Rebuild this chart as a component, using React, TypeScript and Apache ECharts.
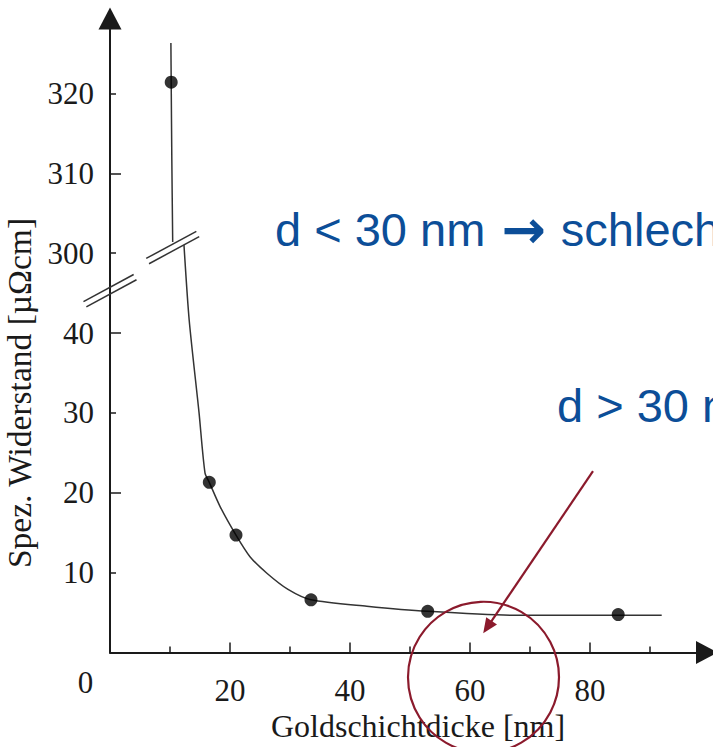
import React, { useEffect, useRef } from "react";
import * as echarts from "echarts";

// values above the axis break (≥ 300 µΩcm) are drawn 250 units lower
const BREAK_SHIFT = 250;

const measuredThickness = [10.2, 16.55, 21.0, 33.5, 52.95, 84.7];
const measuredResistivity = [321.4, 21.3, 14.7, 6.6, 5.15, 4.75];

const fitUpperThickness = [10.15, 10.2, 10.3, 10.45];
const fitUpperResistivity = [326.3, 321.4, 312, 301.4];

const fitLowerThickness = [12.33, 13.2, 14.83, 15.83, 16.55, 18.33, 21.0, 23.33, 26.1, 29.67, 33.5, 42.8, 52.95, 67.2, 91.95];
const fitLowerResistivity = [51.0, 41.6, 30.1, 22.5, 21.3, 18.3, 14.7, 12.0, 9.96, 7.9, 6.6, 5.8, 5.15, 4.66, 4.66];

const xTickLabels = [20, 40, 60, 80];
const xMinorTicks = [10, 30, 50, 70, 90];
const yTickLabels = [10, 20, 30, 40, 300, 310, 320];
const yLongTicks = [20, 40, 310];
const yShortTicks = [10, 30, 300, 320];

const toDisplay = (v: number) => (v >= 200 ? v - BREAK_SHIFT : v);
const fromDisplay = (v: number) => (v >= 45 ? v + BREAK_SHIFT : v);

const SERIF = '"Liberation Serif", "Times New Roman", serif';
const SANS = '"Liberation Sans", Arial, sans-serif';
const INK = "#1a1a1a";
const BLUE = "#0c4e98";
const RED = "#8b1a2c";

export default function App() {
  const ref = useRef<HTMLDivElement>(null);

  useEffect(() => {
    if (!ref.current) return;
    const chart = echarts.init(ref.current, null, { renderer: "svg" });

    const pairs = (xs: number[], ys: number[]) => xs.map((x, i) => [x, toDisplay(ys[i])]);

    const axisLineStyle = { color: INK, width: 2 };

    chart.setOption({
      animation: false,
      grid: { left: 110, right: 3, top: 29.5, bottom: 94.5, containLabel: false, outerBoundsMode: "none" },
      xAxis: [
        {
          type: "value",
          min: 0,
          max: 100,
          splitLine: { show: false },
          axisLine: {
            show: true,
            onZero: false,
            lineStyle: axisLineStyle,
            symbol: ["none", "triangle"],
            symbolSize: [23, 22],
            symbolOffset: [0, -3],
          },
          axisTick: { show: true, inside: true, length: 10, customValues: xTickLabels, lineStyle: { color: INK, width: 1.5 } },
          axisLabel: {
            show: true,
            customValues: xTickLabels,
            margin: 22,
            fontFamily: SERIF,
            fontSize: 31,
            color: INK,
          },
          name: "Goldschichtdicke [nm]",
          nameLocation: "middle",
          nameGap: 52,
          nameTextStyle: { fontFamily: SERIF, fontSize: 32, color: INK, padding: [0, 0, 0, 16] },
        },
        {
          type: "value",
          min: 0,
          max: 100,
          position: "bottom",
          splitLine: { show: false },
          axisLine: { show: false },
          axisLabel: { show: false },
          axisTick: { show: true, inside: true, length: 6, customValues: xMinorTicks, lineStyle: { color: INK, width: 1.5 } },
        },
      ],
      yAxis: [
        {
          type: "value",
          min: 0,
          max: 78,
          position: "left",
          splitLine: { show: false },
          axisLine: {
            show: true,
            onZero: false,
            lineStyle: axisLineStyle,
            symbol: ["none", "triangle"],
            symbolSize: [23, 22],
            symbolOffset: [0, 11],
          },
          axisTick: {
            show: true,
            inside: true,
            length: 6,
            customValues: yShortTicks.map(toDisplay),
            lineStyle: { color: INK, width: 1.5 },
          },
          axisLabel: {
            show: true,
            customValues: yTickLabels.map(toDisplay),
            formatter: (v: number) => String(fromDisplay(v)),
            margin: 16,
            fontFamily: SERIF,
            fontSize: 31,
            color: INK,
          },
          name: "Spez. Widerstand [µΩcm]",
          nameLocation: "middle",
          nameRotate: 90,
          nameGap: 67,
          nameTextStyle: { fontFamily: SERIF, fontSize: 33.5, color: INK, padding: [0, 104, 0, 0] },
        },
        {
          type: "value",
          min: 0,
          max: 78,
          position: "left",
          splitLine: { show: false },
          axisLine: { show: false },
          axisLabel: { show: false },
          axisTick: {
            show: true,
            inside: true,
            length: 11,
            customValues: yLongTicks.map(toDisplay),
            lineStyle: { color: INK, width: 1.5 },
          },
        },
      ],
      series: [
        {
          type: "line",
          name: "Fit oben",
          data: pairs(fitUpperThickness, fitUpperResistivity),
          smooth: 0.3,
          showSymbol: false,
          lineStyle: { color: "#333", width: 1.5 },
        },
        {
          type: "line",
          name: "Fit unten",
          data: pairs(fitLowerThickness, fitLowerResistivity),
          smooth: 0.25,
          showSymbol: false,
          lineStyle: { color: "#333", width: 1.5 },
        },
        {
          type: "scatter",
          name: "Messwerte",
          data: pairs(measuredThickness, measuredResistivity),
          symbolSize: 13,
          itemStyle: { color: "#000" },
          z: 5,
        },
      ],
    });

    const px = (x: number, y: number) => chart.convertToPixel({ gridIndex: 0 }, [x, y]) as number[];

    const breakMark = (cx: number, cy: number) => {
      const [x, y] = px(cx, cy);
      const d = [0.88, -0.475];
      const n = [0.475, 0.88];
      const h = 28.5;
      return [-3, 3].map((o) => ({
        type: "line",
        shape: {
          x1: x - d[0] * h + n[0] * o,
          y1: y - d[1] * h + n[1] * o,
          x2: x + d[0] * h + n[0] * o,
          y2: y + d[1] * h + n[1] * o,
        },
        style: { stroke: "#333", lineWidth: 1.5 },
        z: 10,
      }));
    };

    const [ccx, ccy] = px(62.25, -3.1);
    const [ax1, ay1] = px(80.5, 22.7);
    const [tx, ty] = px(62.2, 2.4);
    const len = Math.hypot(tx - ax1, ty - ay1);
    const ux = (tx - ax1) / len;
    const uy = (ty - ay1) / len;
    const headL = 15;
    const headW = 6.5;
    const bx = tx - ux * headL;
    const by = ty - uy * headL;

    const blueRich = {
      txt: {
        fontFamily: SANS,
        fontSize: 47,
        color: BLUE,
        lineHeight: 56,
        verticalAlign: "middle",
      },
      arr: {
        fontFamily: '"DejaVu Sans", sans-serif',
        fontWeight: "bold",
        fontSize: 53,
        color: BLUE,
        lineHeight: 56,
        verticalAlign: "middle",
        padding: [0, 2, 0, 3],
      },
    };

    chart.setOption({
      graphic: [
        ...breakMark(0, 45.3),
        ...breakMark(10.45, 50.7),
        {
          type: "text",
          x: 85.5,
          y: 682.5,
          style: { text: "0", font: `31px ${SERIF}`, fill: INK, align: "center", verticalAlign: "middle", textAlign: "center", textVerticalAlign: "middle" },
        },
        {
          type: "text",
          x: 275,
          y: 229,
          style: {
            text: "{txt|d < 30 nm }{arr|→}{txt| schlecht}",
            rich: blueRich,
            font: `47px ${SANS}`,
            fill: BLUE,
            align: "left",
            verticalAlign: "middle",
            textAlign: "left",
            textVerticalAlign: "middle",
          },
        },
        {
          type: "text",
          x: 557,
          y: 405,
          style: { text: "d > 30 nm", font: `47px ${SANS}`, fill: BLUE, align: "left", verticalAlign: "middle", textAlign: "left", textVerticalAlign: "middle" },
        },
        {
          type: "circle",
          shape: { cx: ccx, cy: ccy, r: 75.5 },
          style: { fill: "none", stroke: RED, lineWidth: 2.2 },
          z: 20,
        },
        {
          type: "line",
          shape: { x1: ax1, y1: ay1, x2: bx + ux * 2, y2: by + uy * 2 },
          style: { stroke: RED, lineWidth: 2.2 },
          z: 20,
        },
        {
          type: "polygon",
          shape: {
            points: [
              [tx, ty],
              [bx - uy * headW, by + ux * headW],
              [bx + uy * headW, by - ux * headW],
            ],
          },
          style: { fill: RED },
          z: 20,
        },
      ],
    });

    return () => chart.dispose();
  }, []);

  return (
    <div
      ref={ref}
      style={{ position: "fixed", left: 0, top: 0, width: 713, height: 747, background: "#fff" }}
    />
  );
}
